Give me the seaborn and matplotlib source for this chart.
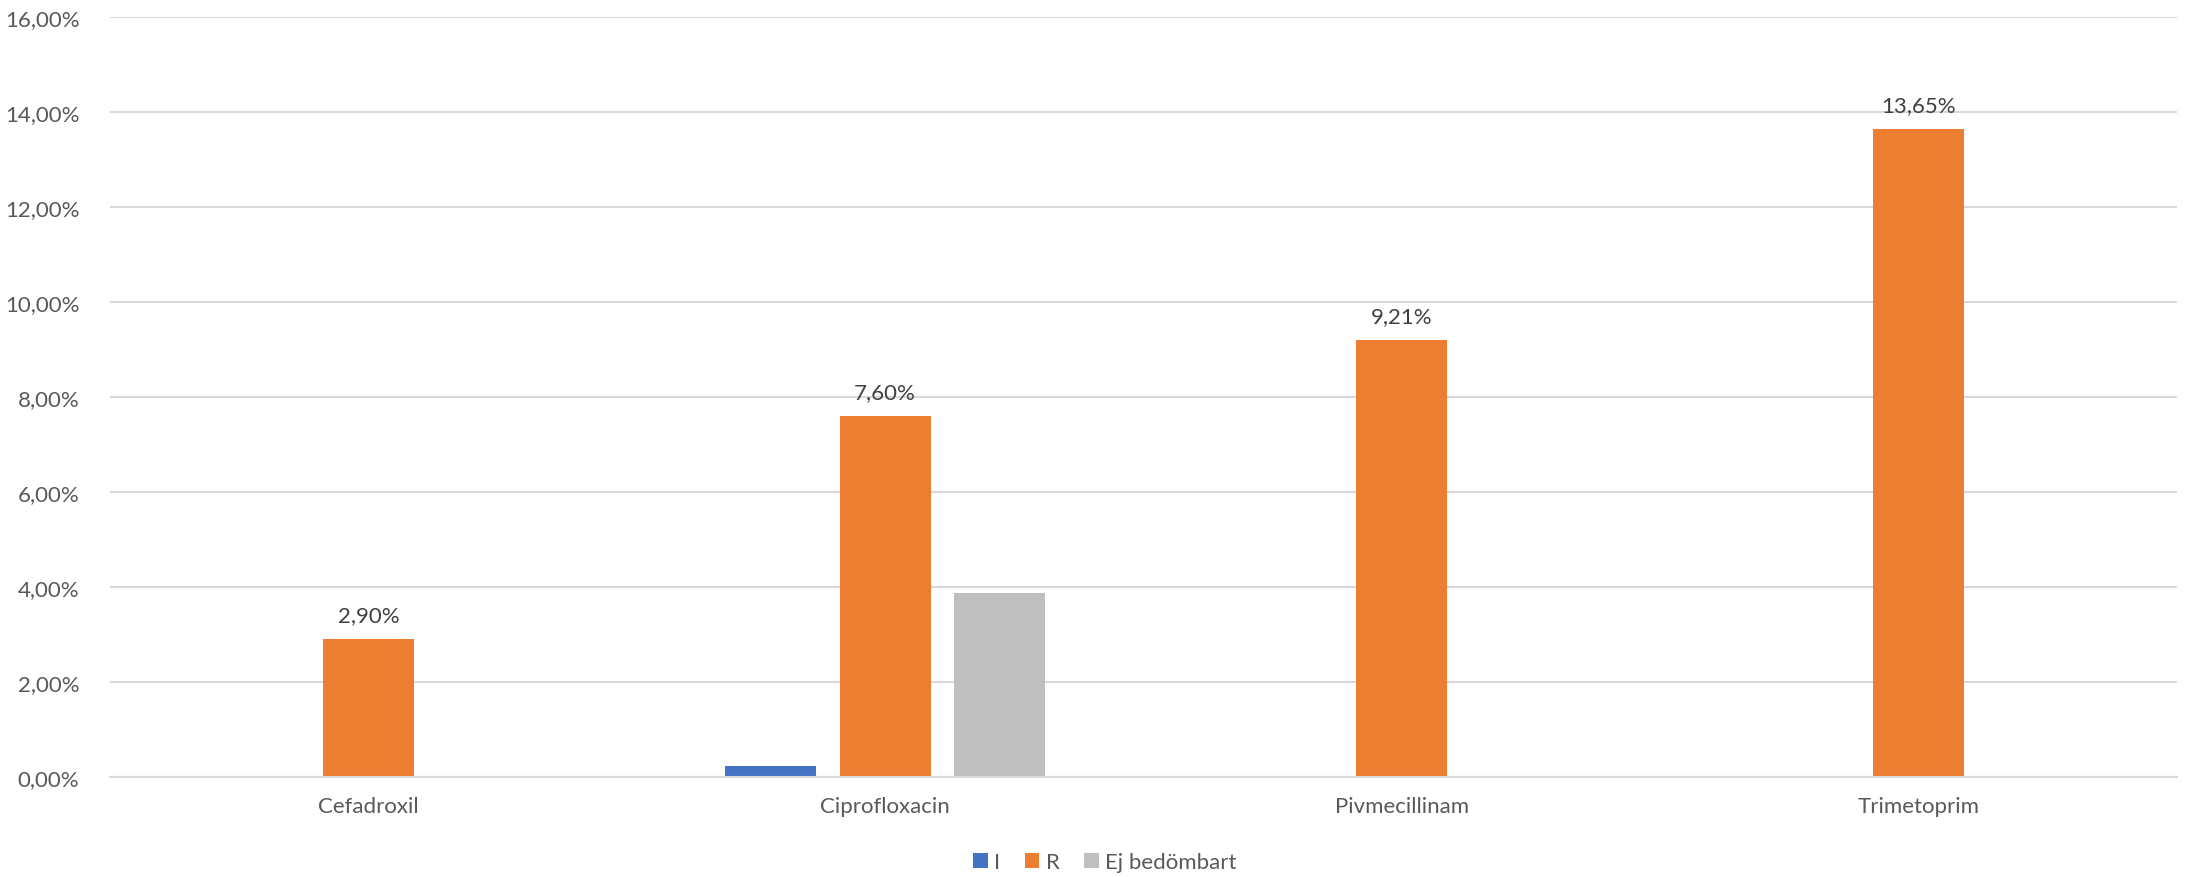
import matplotlib
matplotlib.use("Agg")
import matplotlib.pyplot as plt
import seaborn as sns
import pandas as pd
from matplotlib.ticker import FuncFormatter
from matplotlib.patches import Patch

# Resistance share per antibiotic (percent)
categories = ["Cefadroxil", "Ciprofloxacin", "Pivmecillinam", "Trimetoprim"]
series = ["I", "R", "Ej bedömbart"]
values_I = [0.0, 0.24, 0.0, 0.0]
values_R = [2.90, 7.60, 9.21, 13.65]
values_ej = [0.0, 3.88, 0.0, 0.0]
y_ticks = [0, 2, 4, 6, 8, 10, 12, 14, 16]

colors = ["#4472C4", "#ED7D31", "#BFBFBF"]
text_color = "#595959"
grid_color = "#D9D9D9"

rows = []
for name, vals in zip(series, [values_I, values_R, values_ej]):
    for cat, v in zip(categories, vals):
        rows.append({"Antibiotikum": cat, "Serie": name, "Andel": v})
df = pd.DataFrame(rows)

sns.set_theme(style="white")
plt.rcParams["font.family"] = ["Lato", "DejaVu Sans"]

W, H = 2188, 878
fig = plt.figure(figsize=(W / 100, H / 100), dpi=100)
ax = fig.add_axes([110 / W, (H - 778) / H, (2177 - 110) / W, (778 - 18) / H])

sns.barplot(
    data=df, x="Antibiotikum", y="Andel", hue="Serie",
    order=categories, hue_order=series, palette=colors,
    width=0.665, gap=0.205, dodge=True, linewidth=0,
    saturation=1, errorbar=None, legend=False, ax=ax,
)

ax.set_ylim(0, 16)
ax.set_xlim(-0.5, len(categories) - 0.5)
ax.set_yticks(y_ticks)
ax.yaxis.set_major_formatter(FuncFormatter(lambda v, p: f"{v:.2f}".replace(".", ",") + "%"))
ax.grid(axis="y", color=grid_color, linewidth=1.5)
ax.set_axisbelow(True)
for side in ["top", "right", "left"]:
    ax.spines[side].set_visible(False)
ax.spines["bottom"].set_color(grid_color)
ax.spines["bottom"].set_linewidth(1.5)
ax.tick_params(axis="both", length=0, labelsize=16, colors=text_color)
ax.tick_params(axis="y", pad=22)
ax.tick_params(axis="x", pad=14)
ax.set_xlabel("")
ax.set_ylabel("")

# Value labels on the R series only
r_container = ax.containers[1]
ax.bar_label(
    r_container,
    labels=[f"{v:.2f}".replace(".", ",") + "%" for v in values_R],
    padding=10, fontsize=16, color="#404040",
)

handles = [Patch(facecolor=c, edgecolor="none") for c in colors]
fig.legend(
    handles, series, loc="center", bbox_to_anchor=(1105 / W, 1 - 863 / H),
    ncol=3, frameon=False, fontsize=16, labelcolor=text_color,
    handlelength=0.65, handleheight=0.65, handletextpad=0.3, columnspacing=1.1,
)

fig.savefig("out.png", dpi=100, facecolor="white")
